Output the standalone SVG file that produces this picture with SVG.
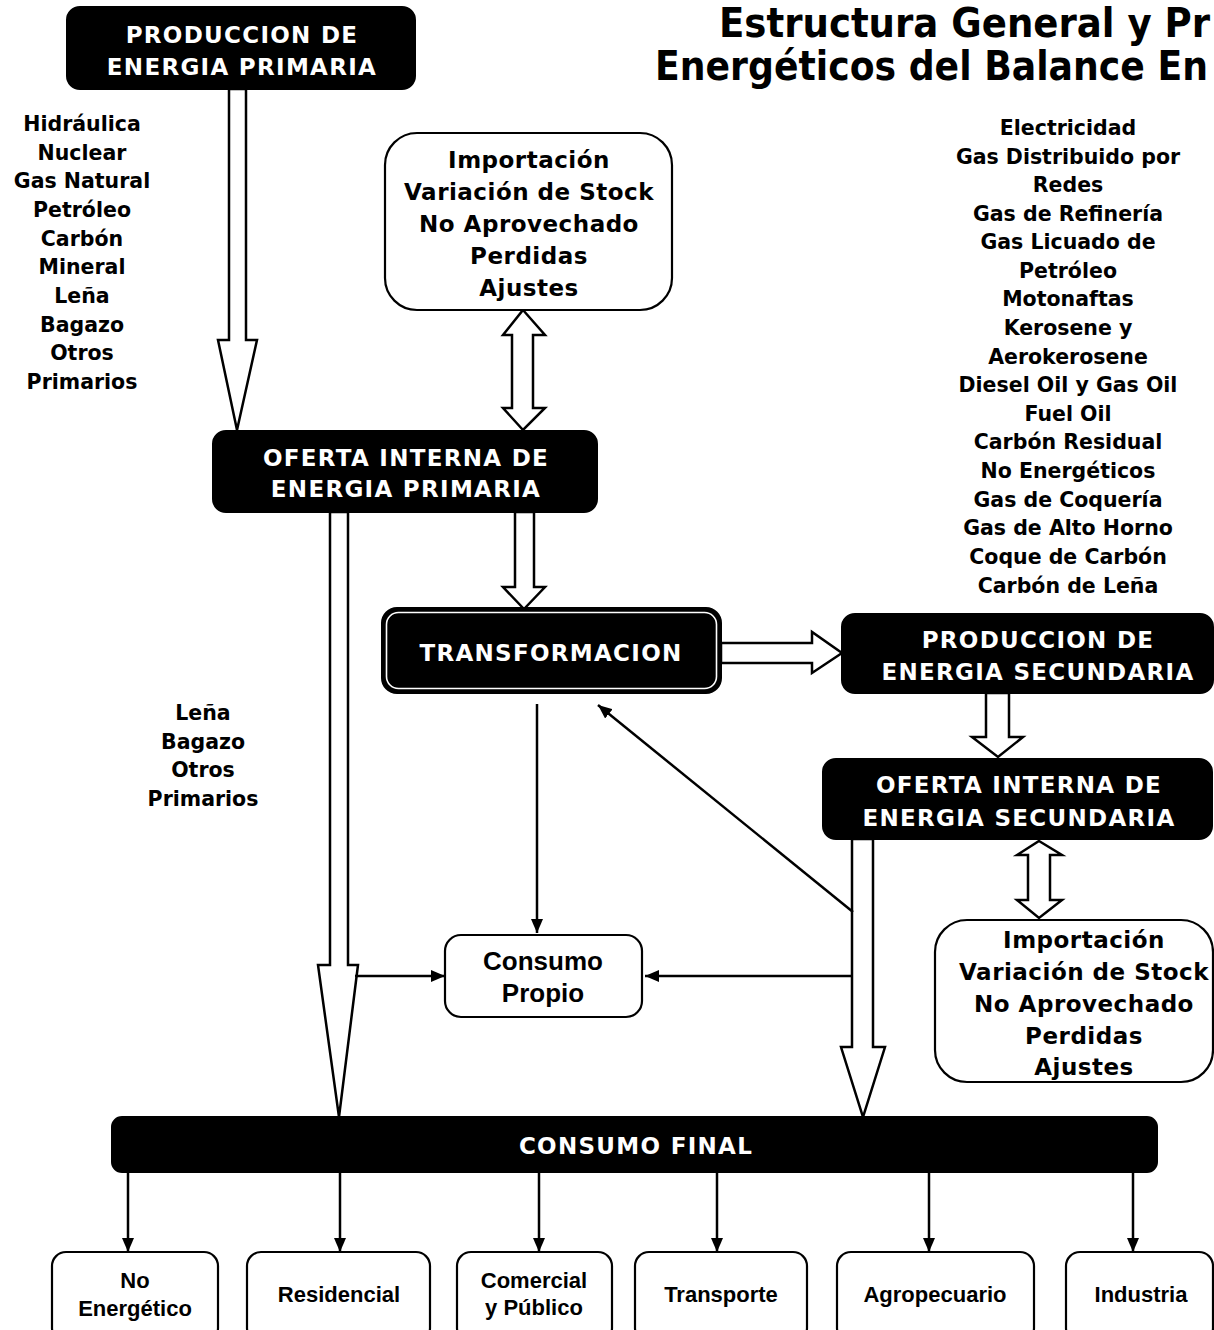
<svg xmlns="http://www.w3.org/2000/svg" width="1214" height="1330" viewBox="0 0 1214 1330">
<defs>
<marker id="ah" markerUnits="userSpaceOnUse" markerWidth="14" markerHeight="12" refX="14" refY="6" orient="auto">
<path d="M0,0 L14,6 L0,12 z" fill="#000"/>
</marker>
<style>
.blk{fill:#000;stroke:#000;stroke-width:2}
.wht{fill:#fff;stroke:#000;stroke-width:2.2}
.hol{fill:#fff;stroke:#000;stroke-width:2.5;stroke-linejoin:miter}
.ln{fill:none;stroke:#000;stroke-width:2.5}
.bt{font-family:"DejaVu Sans",Verdana,sans-serif;font-weight:bold;font-size:23px;fill:#fff;text-anchor:middle;letter-spacing:1.3px}
.lst{font-family:"DejaVu Sans",Verdana,sans-serif;font-weight:bold;font-size:20.5px;fill:#000;text-anchor:middle}
.imp{font-family:"DejaVu Sans",Verdana,sans-serif;font-weight:bold;font-size:23px;fill:#000;text-anchor:middle;letter-spacing:0.5px}
.sm{font-family:"Liberation Sans",Arial,sans-serif;font-weight:bold;font-size:22px;fill:#000;text-anchor:middle}
.cp{font-family:"Liberation Sans",Arial,sans-serif;font-weight:bold;font-size:26px;fill:#000;text-anchor:middle}
.ttl{font-family:"DejaVu Sans Condensed","DejaVu Sans",sans-serif;font-weight:bold;font-size:40px;fill:#000}
</style>
</defs>
<rect width="1214" height="1330" fill="#fff"/>

<g id="title">
<text class="ttl" x="719" y="37" textLength="491" lengthAdjust="spacingAndGlyphs">Estructura General y Pr</text>
<text class="ttl" x="655" y="80" textLength="553" lengthAdjust="spacingAndGlyphs">Energéticos del Balance En</text>
</g>

<g id="connectors">
<polygon class="hol" points="229,89 229,340 218,340 237,430 257,340 246,340 246,89"/>
<polygon class="hol" points="523,310 545,335 533,335 533,408 545,408 523,430 503,408 512,408 512,335 503,335"/>
<polygon class="hol" points="515,512 515,587 503,587 524,609 545,587 534,587 534,512"/>
<polygon class="hol" points="721,643 812,643 812,632 842,653 812,673 812,663 721,663"/>
<polygon class="hol" points="986,693 986,737 972,737 998,757 1023,737 1009,737 1009,693"/>
<polygon class="hol" points="1039,841 1062,855 1050,855 1050,900 1062,900 1039,918 1017,900 1028,900 1028,855 1017,855"/>
<polygon class="hol" points="330,512 330,965 318,965 339,1117 358,965 348,965 348,512"/>
<polygon class="hol" points="852,839 852,1047 841,1047 863,1117 885,1047 873,1047 873,839"/>
<line class="ln" x1="537" y1="704" x2="537" y2="933" marker-end="url(#ah)"/>
<line class="ln" x1="355" y1="976" x2="445" y2="976" marker-end="url(#ah)"/>
<line class="ln" x1="852" y1="976" x2="645" y2="976" marker-end="url(#ah)"/>
<line class="ln" x1="853" y1="912" x2="598" y2="705" marker-end="url(#ah)"/>
<line class="ln" x1="128" y1="1172" x2="128" y2="1252" marker-end="url(#ah)"/>
<line class="ln" x1="340" y1="1172" x2="340" y2="1252" marker-end="url(#ah)"/>
<line class="ln" x1="539" y1="1172" x2="539" y2="1252" marker-end="url(#ah)"/>
<line class="ln" x1="717" y1="1172" x2="717" y2="1252" marker-end="url(#ah)"/>
<line class="ln" x1="929" y1="1172" x2="929" y2="1252" marker-end="url(#ah)"/>
<line class="ln" x1="1133" y1="1172" x2="1133" y2="1252" marker-end="url(#ah)"/>
</g>

<g id="prod-primaria">
<rect class="blk" x="67" y="7" width="348" height="82" rx="13"/>
<text class="bt" x="242" y="43">PRODUCCION DE</text>
<text class="bt" x="242" y="75">ENERGIA PRIMARIA</text>
</g>

<g id="lista-primarios">
<text class="lst" x="82" y="131">Hidráulica</text>
<text class="lst" x="82" y="160">Nuclear</text>
<text class="lst" x="82" y="188">Gas Natural</text>
<text class="lst" x="82" y="217">Petróleo</text>
<text class="lst" x="82" y="246">Carbón</text>
<text class="lst" x="82" y="274">Mineral</text>
<text class="lst" x="82" y="303">Leña</text>
<text class="lst" x="82" y="332">Bagazo</text>
<text class="lst" x="82" y="360">Otros</text>
<text class="lst" x="82" y="389">Primarios</text>
</g>

<g id="importacion-1">
<rect class="wht" x="385" y="133" width="287" height="177" rx="32"/>
<text class="imp" x="529" y="168">Importación</text>
<text class="imp" x="529" y="200">Variación de Stock</text>
<text class="imp" x="529" y="232">No Aprovechado</text>
<text class="imp" x="529" y="264">Perdidas</text>
<text class="imp" x="529" y="296">Ajustes</text>
</g>

<g id="lista-secundarios">
<text class="lst" x="1068" y="135">Electricidad</text>
<text class="lst" x="1068" y="164">Gas Distribuido por</text>
<text class="lst" x="1068" y="192">Redes</text>
<text class="lst" x="1068" y="221">Gas de Refinería</text>
<text class="lst" x="1068" y="249">Gas Licuado de</text>
<text class="lst" x="1068" y="278">Petróleo</text>
<text class="lst" x="1068" y="306">Motonaftas</text>
<text class="lst" x="1068" y="335">Kerosene y</text>
<text class="lst" x="1068" y="364">Aerokerosene</text>
<text class="lst" x="1068" y="392">Diesel Oil y Gas Oil</text>
<text class="lst" x="1068" y="421">Fuel Oil</text>
<text class="lst" x="1068" y="449">Carbón Residual</text>
<text class="lst" x="1068" y="478">No Energéticos</text>
<text class="lst" x="1068" y="507">Gas de Coquería</text>
<text class="lst" x="1068" y="535">Gas de Alto Horno</text>
<text class="lst" x="1068" y="564">Coque de Carbón</text>
<text class="lst" x="1068" y="593">Carbón de Leña</text>
</g>

<g id="oferta-primaria">
<rect class="blk" x="213" y="431" width="384" height="81" rx="13"/>
<text class="bt" x="406" y="466">OFERTA INTERNA DE</text>
<text class="bt" x="406" y="497">ENERGIA PRIMARIA</text>
</g>

<g id="transformacion">
<rect x="382" y="608" width="339" height="85" rx="15" fill="#000" stroke="#000" stroke-width="2"/>
<rect x="386.5" y="612.5" width="330" height="76" rx="12" fill="none" stroke="#fff" stroke-width="1.6"/>
<text class="bt" x="551" y="661">TRANSFORMACION</text>
</g>

<g id="prod-secundaria">
<rect class="blk" x="842" y="614" width="371" height="79" rx="13"/>
<text class="bt" x="1038" y="648">PRODUCCION DE</text>
<text class="bt" x="1038" y="680">ENERGIA SECUNDARIA</text>
</g>

<g id="oferta-secundaria">
<rect class="blk" x="823" y="759" width="389" height="80" rx="13"/>
<text class="bt" x="1019" y="793">OFERTA INTERNA DE</text>
<text class="bt" x="1019" y="826">ENERGIA SECUNDARIA</text>
</g>

<g id="importacion-2">
<rect class="wht" x="935" y="920" width="278" height="162" rx="32"/>
<text class="imp" x="1084" y="948">Importación</text>
<text class="imp" x="1084" y="980">Variación de Stock</text>
<text class="imp" x="1084" y="1012">No Aprovechado</text>
<text class="imp" x="1084" y="1044">Perdidas</text>
<text class="imp" x="1084" y="1075">Ajustes</text>
</g>

<g id="lista-leña">
<text class="lst" x="203" y="720">Leña</text>
<text class="lst" x="203" y="749">Bagazo</text>
<text class="lst" x="203" y="777">Otros</text>
<text class="lst" x="203" y="806">Primarios</text>
</g>

<g id="consumo-propio">
<rect class="wht" x="445" y="935" width="197" height="82" rx="16"/>
<text class="cp" x="543" y="970">Consumo</text>
<text class="cp" x="543" y="1002">Propio</text>
</g>

<g id="consumo-final">
<rect class="blk" x="112" y="1117" width="1045" height="55" rx="10"/>
<text class="bt" x="636" y="1154">CONSUMO FINAL</text>
</g>

<g id="no-energetico">
<rect class="wht" x="52" y="1252" width="166" height="90" rx="14"/>
<text class="sm" x="135" y="1288">No</text>
<text class="sm" x="135" y="1316">Energético</text>
</g>
<g id="residencial">
<rect class="wht" x="247" y="1252" width="183" height="90" rx="14"/>
<text class="sm" x="339" y="1302">Residencial</text>
</g>
<g id="comercial">
<rect class="wht" x="457" y="1252" width="155" height="90" rx="14"/>
<text class="sm" x="534" y="1288">Comercial</text>
<text class="sm" x="534" y="1315">y Público</text>
</g>
<g id="transporte">
<rect class="wht" x="635" y="1252" width="172" height="90" rx="14"/>
<text class="sm" x="721" y="1302">Transporte</text>
</g>
<g id="agropecuario">
<rect class="wht" x="837" y="1252" width="197" height="90" rx="14"/>
<text class="sm" x="935" y="1302">Agropecuario</text>
</g>
<g id="industria">
<rect class="wht" x="1066" y="1252" width="147" height="90" rx="14"/>
<text class="sm" x="1141" y="1302">Industria</text>
</g>
</svg>
